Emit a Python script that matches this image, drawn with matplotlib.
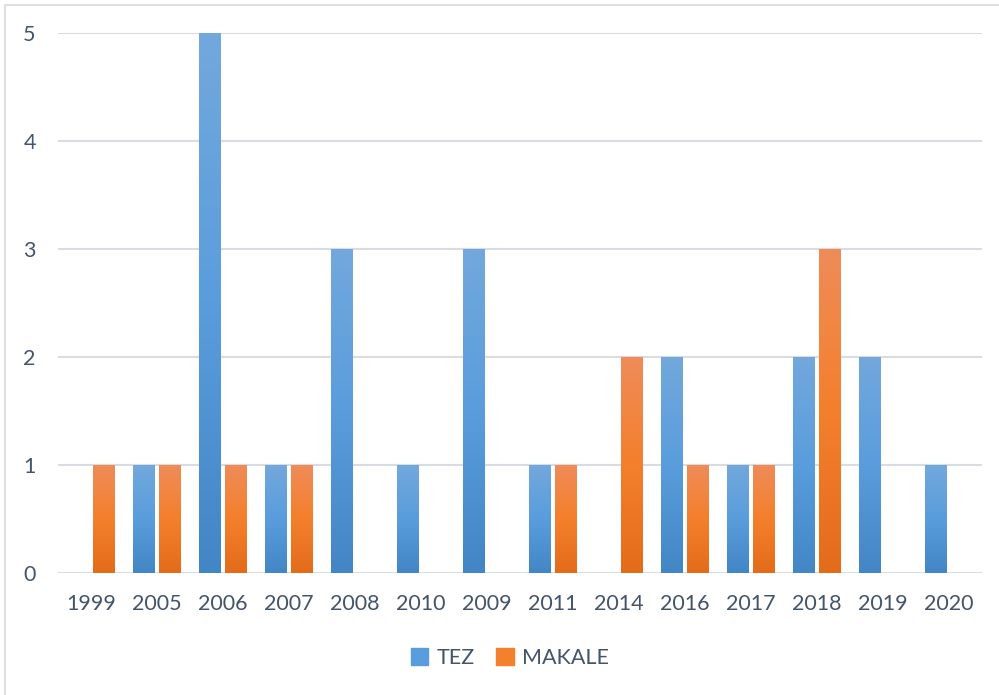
import numpy as np
import matplotlib.pyplot as plt
from matplotlib.colors import LinearSegmentedColormap
from matplotlib.patches import Rectangle

years = ["1999", "2005", "2006", "2007", "2008", "2010", "2009",
         "2011", "2014", "2016", "2017", "2018", "2019", "2020"]
tez = [0, 1, 5, 1, 3, 1, 3, 1, 0, 2, 1, 2, 2, 1]
makale = [1, 1, 1, 1, 0, 0, 0, 1, 2, 1, 1, 3, 0, 0]

plt.rcParams['font.family'] = ['Lato', 'DejaVu Sans']
txt = "#44546a"

blue_cm = LinearSegmentedColormap.from_list("b", ["#4286c6", "#5a9ddc", "#72a8dc"])
orange_cm = LinearSegmentedColormap.from_list("o", ["#e36c1a", "#f47f2c", "#ef8c5a"])

fig = plt.figure(figsize=(9.99, 6.95), dpi=100)
ax = fig.add_axes([58/999, 122/695, 924/999, 540/695])

x = np.arange(len(years))
w = 0.33
gap = 0.06
b1 = ax.bar(x - (w + gap)/2, tez, w, color="#5b9bd5", label="TEZ", zorder=2)
b2 = ax.bar(x + (w + gap)/2, makale, w, color="#f47f2c", label="MAKALE", zorder=2)

grad = np.linspace(0, 1, 256).reshape(-1, 1)
for bars, cm in ((b1, blue_cm), (b2, orange_cm)):
    for p in bars:
        h = p.get_height()
        if h == 0:
            continue
        x0 = p.get_x()
        im = ax.imshow(grad, cmap=cm, aspect="auto", origin="lower",
                       extent=(x0, x0 + p.get_width(), 0, h), zorder=3)
        im.set_clip_path(p)

ax.set_xlim(-0.5, len(years) - 0.5)
ax.set_ylim(0, 5)
ax.set_xticks(x)
ax.set_xticklabels(years)
ax.set_yticks(range(6))
ax.tick_params(length=0, labelsize=15.5, labelcolor=txt)
ax.tick_params(axis="x", pad=15)
ax.tick_params(axis="y", pad=16)
for s in ax.spines.values():
    s.set_visible(False)
ax.yaxis.grid(True, color="#d9dde3", linewidth=1.5, zorder=0)
ax.set_axisbelow(True)

leg = ax.legend(loc="center", bbox_to_anchor=(510/999, 37/695), bbox_transform=fig.transFigure,
                ncol=2, frameon=False, fontsize=15.5, handlelength=0.8, handleheight=0.8,
                handletextpad=0.4, columnspacing=1.0)
for t in leg.get_texts():
    t.set_color(txt)
for h, cm in zip(leg.legend_handles, (blue_cm, orange_cm)):
    h.set_color(cm(0.5))

fig.patches.append(Rectangle((5/999, -0.01), 1.0, 1 - 5/695 + 0.01, transform=fig.transFigure,
                             fill=False, edgecolor="#d9d9d9", linewidth=1.2))

fig.savefig("out.png", dpi=100)
